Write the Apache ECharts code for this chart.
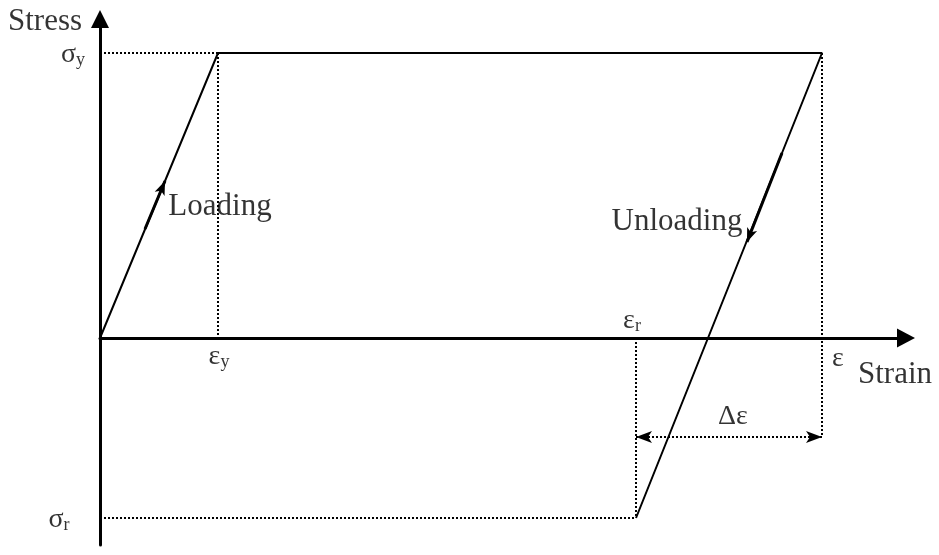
<!DOCTYPE html>
<html>
<head>
<meta charset="utf-8">
<script src="https://cdn.jsdelivr.net/npm/echarts@6/dist/echarts.min.js"></script>
<style>
html,body{margin:0;padding:0;background:#fff;}
#chart{width:939px;height:555px;}
</style>
</head>
<body>
<div id="chart"></div>
<script>
// Idealised elastic–perfectly-plastic loading / unloading path
const pathStrain = [0, 1.18, 7.22, 5.36];
const pathStress = [0, 2.85, 2.85, -1.80];

// Characteristic values
const epsY = 1.18;      // yield strain
const epsMax = 7.22;    // strain at start of unloading
const epsR = 5.36;      // residual strain
const sigmaY = 2.85;    // yield stress
const sigmaR = -1.80;   // residual stress
const deltaLevel = -0.99; // height of the Δε dimension line

// Axis extents
const xRange = [0, 8.06];
const yRange = [-2.07, 3.19];

// Direction arrows along the path [start, end]
const loadingArrow = [[0.45, 1.09], [0.65, 1.57]];
const unloadingArrow = [[6.82, 1.85], [6.47, 0.96]];

const FONT = '"Liberation Serif", "Times New Roman", serif';

const pathData = pathStrain.map((x, i) => [x, pathStress[i]]);

// Dotted projection lines
const guides = [
  [[0, sigmaY], [epsY, sigmaY]],
  [[epsY, sigmaY], [epsY, 0]],
  [[epsMax, sigmaY], [epsMax, deltaLevel]],
  [[epsR, 0], [epsR, sigmaR]],
  [[0, sigmaR], [epsR, sigmaR]]
];

const plain = {color: '#000', textBorderWidth: 0, textShadowBlur: 0};
const rich = {
  w: Object.assign({fontFamily: FONT, fontSize: 31}, plain),
  g: Object.assign({fontFamily: FONT, fontSize: 28, lineHeight: 28}, plain),
  s: Object.assign({fontFamily: FONT, fontSize: 18, verticalAlign: 'bottom', padding: [11, 0, 0, 0]}, plain)
};

// Text annotations: [x, y, rich-text]
const annotations = [
  [-0.55, 3.16, '{w|Stress}'],
  [-0.27, 2.83, '{g|σ}{s|y}'],
  [-0.41, -1.82, '{g|σ}{s|r}'],
  [1.19, -0.19, '{g|ε}{s|y}'],
  [5.32, 0.17, '{g|ε}{s|r}'],
  [7.38, -0.21, '{g|ε}'],
  [7.95, -0.37, '{w|Strain}'],
  [6.33, -0.79, '{g|Δε}'],
  [1.20, 1.31, '{w|Loading}'],
  [5.77, 1.16, '{w|Unloading}']
];

const dotted = {color: '#000', width: 2, type: [2, 2]};

const series = [
  {
    type: 'line',
    data: pathData,
    symbol: 'none',
    lineStyle: {color: '#000', width: 2},
    z: 5
  },
  ...guides.map(seg => ({
    type: 'line',
    data: seg,
    symbol: 'none',
    lineStyle: dotted,
    z: 3
  })),
  {
    // Δε dimension line with arrowheads at both ends
    type: 'line',
    data: [],
    markLine: {
      silent: true,
      symbol: ['arrow', 'arrow'],
      symbolSize: [9, 16],
      label: {show: false},
      lineStyle: dotted,
      data: [[{coord: [epsR, deltaLevel]}, {coord: [epsMax, deltaLevel]}]]
    }
  },
  {
    // Loading / unloading direction arrows
    type: 'line',
    data: [],
    markLine: {
      silent: true,
      symbol: ['none', 'arrow'],
      symbolSize: [8, 14],
      label: {show: false},
      lineStyle: {color: '#000', width: 3, type: 'solid'},
      data: [
        [{coord: loadingArrow[0]}, {coord: loadingArrow[1]}],
        [{coord: unloadingArrow[0]}, {coord: unloadingArrow[1]}]
      ]
    },
    z: 6
  },
  {
    type: 'scatter',
    clip: false,
    symbolSize: 0,
    silent: true,
    itemStyle: {color: '#000'},
    data: annotations.map(a => ({value: [a[0], a[1]], label: {formatter: a[2]}})),
    label: Object.assign({
      show: true,
      position: [0, 0],
      align: 'center',
      verticalAlign: 'middle',
      rich: rich
    }, plain),
    z: 10
  }
];

const chart = echarts.init(document.getElementById('chart'), null, {renderer: 'canvas'});
chart.setOption({
  animation: false,
  backgroundColor: '#fff',
  grid: {left: 100, right: 33, top: 19, bottom: 10, containLabel: false},
  xAxis: {
    type: 'value',
    min: xRange[0],
    max: xRange[1],
    axisLine: {
      onZero: true,
      lineStyle: {color: '#000', width: 3},
      symbol: ['none', 'triangle'],
      symbolSize: [19, 18]
    },
    axisTick: {show: false},
    axisLabel: {show: false},
    splitLine: {show: false}
  },
  yAxis: {
    type: 'value',
    min: yRange[0],
    max: yRange[1],
    axisLine: {
      show: true,
      onZero: true,
      lineStyle: {color: '#000', width: 3},
      symbol: ['none', 'triangle'],
      symbolSize: [18, 18]
    },
    axisTick: {show: false},
    axisLabel: {show: false},
    splitLine: {show: false}
  },
  series: series
});
</script>
</body>
</html>
